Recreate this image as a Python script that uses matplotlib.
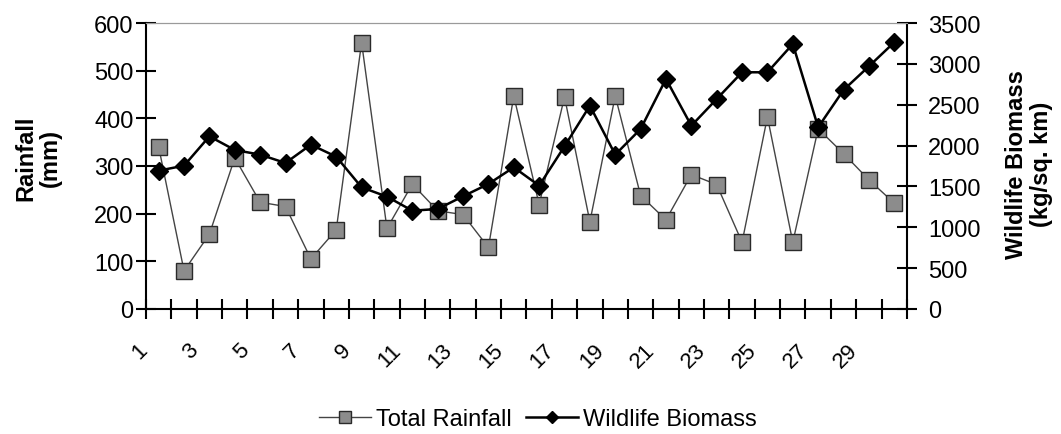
import numpy as np
import matplotlib
matplotlib.use("Agg")
import matplotlib.pyplot as plt
import matplotlib.transforms as mtransforms
from matplotlib.lines import Line2D

plt.rcParams['font.family'] = ['Liberation Sans', 'DejaVu Sans']

# yearly series
years = list(range(1, 31))
rainfall = [340, 80, 157, 317, 224, 215, 105, 166, 559, 169,
            262, 206, 198, 129, 447, 219, 445, 183, 447, 238,
            187, 282, 261, 140, 403, 140, 378, 326, 271, 222]
biomass = [1693, 1754, 2113, 1946, 1889, 1787, 2011, 1864, 1489, 1375,
           1203, 1224, 1379, 1530, 1734, 1509, 1991, 2488, 1889, 2203,
           2815, 2243, 2570, 2897, 2897, 3243, 2224, 2680, 2970, 3264]
year_labels = [str(y) if y % 2 == 1 else '' for y in years]

fig = plt.figure(figsize=(10.61, 4.35), dpi=100)
ax1 = fig.add_axes([0.1376, 0.2874, 0.7172, 0.6574])
ax2 = ax1.twinx()

x = np.arange(len(years))
ax1.plot(x, rainfall, color='#444444', lw=1.0, marker='s', ms=11,
         mfc='#8c8c8c', mec='#2a2a2a', mew=1.0, zorder=3)
ax2.plot(x, biomass, color='black', lw=1.8, marker='D', ms=9,
         mfc='black', mec='black', zorder=4)

ax1.set_xlim(-0.5, len(years) - 0.5)
ax1.set_ylim(0, 600)
ax1.set_yticks(range(0, 601, 100))
ax2.set_ylim(0, 3500)
ax2.set_yticks(range(0, 3501, 500))

# category boundaries get the tick marks, centres get the labels
ax1.set_xticks(np.arange(len(years) + 1) - 0.5)
ax1.set_xticklabels([])
ax1.set_xticks(x, minor=True)
ax1.set_xticklabels(year_labels, minor=True, rotation=45,
                    ha='right', va='center', rotation_mode='anchor')
ax1.tick_params(axis='x', which='minor', length=0, pad=27, labelsize=16)
ax1.tick_params(axis='x', which='major', direction='inout', length=14,
                width=1.5)
ax1.tick_params(axis='y', direction='inout', length=14, width=1.5,
                labelsize=17, pad=2)
ax2.tick_params(axis='y', direction='inout', length=14, width=1.5,
                labelsize=17, pad=8)

# nudge the slanted year labels left of their category centre
shift = mtransforms.ScaledTranslation(-14 / 100, 0, fig.dpi_scale_trans)
for lbl in ax1.get_xticklabels(minor=True):
    lbl.set_transform(lbl.get_transform() + shift)

for ax in (ax1, ax2):
    ax.spines['top'].set_color('#9a9a9a')
    ax.spines['top'].set_linewidth(0.8)
    ax.spines['left'].set_linewidth(1.5)
    ax.spines['bottom'].set_linewidth(1.5)
    ax.spines['right'].set_linewidth(1.5)
ax1.spines['right'].set_visible(False)
ax2.spines['left'].set_visible(False)
ax2.spines['bottom'].set_visible(False)

ax1.set_ylabel('Rainfall\n(mm)', fontsize=17, fontweight='bold',
               linespacing=1.1)
ax1.yaxis.set_label_coords(-0.110, 0.53)
ax2.set_ylabel('Wildlife Biomass\n(kg/sq. km)', fontsize=17,
               fontweight='bold', linespacing=1.1)
ax2.yaxis.set_label_coords(1.129, 0.51)

handles = [
    Line2D([], [], color='#444444', lw=1.0, marker='s', ms=8,
           mfc='#8c8c8c', mec='#2a2a2a'),
    Line2D([], [], color='black', lw=1.8, marker='D', ms=6, mfc='black'),
]
fig.legend(handles, ['Total Rainfall', 'Wildlife Biomass'], loc='center',
           bbox_to_anchor=(0.507, 0.035), ncol=2, frameon=False,
           fontsize=17, handlelength=2.2, handletextpad=0.2,
           columnspacing=0.6, borderpad=0.1)

fig.savefig('out.png', dpi=100)
